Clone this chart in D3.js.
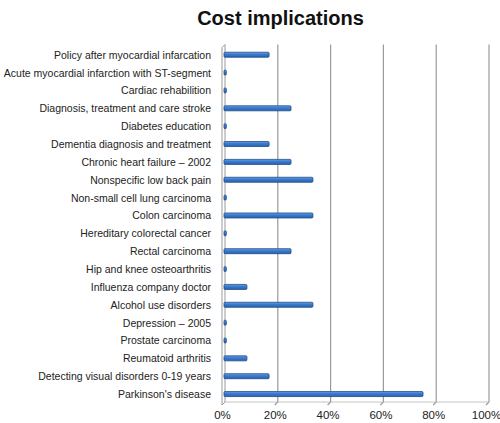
<!DOCTYPE html>
<html><head><meta charset="utf-8">
<script src="https://cdn.jsdelivr.net/npm/d3@7"></script>
<style>body{margin:0;background:#fff}</style>
</head><body>
<svg id="c" width="500" height="423"></svg>
<script>
const categories = ["Policy after myocardial infarcation","Acute myocardial infarction with ST-segment","Cardiac rehabilition","Diagnosis, treatment and care stroke","Diabetes education","Dementia diagnosis and treatment","Chronic heart failure \u2013 2002","Nonspecific low back pain","Non-small cell lung carcinoma","Colon carcinoma","Hereditary colorectal cancer","Rectal carcinoma","Hip and knee osteoarthritis","Influenza company doctor","Alcohol use disorders","Depression \u2013 2005","Prostate carcinoma","Reumatoid arthritis","Detecting visual disorders 0-19 years","Parkinson's disease"];
const values = [0.167,0.005,0.005,0.25,0.005,0.167,0.25,0.333,0.005,0.333,0.005,0.25,0.005,0.083,0.333,0.005,0.005,0.083,0.167,0.75];
const tickValues = [0,0.2,0.4,0.6,0.8,1.0];
const title = "Cost implications";

const svg = d3.select("#c");
const font = "Liberation Sans, Arial, Helvetica, sans-serif";
const x = d3.scaleLinear().domain([0,1]).range([225,489]);
const y = d3.scaleBand().domain(categories).range([45.8,403]);
const wallTop = 44.5, floorBack = 402, depth = 3;

svg.append("text").attr("x",280.5).attr("y",25).attr("text-anchor","middle")
  .attr("font-family",font).attr("font-weight","bold").attr("font-size",20).attr("fill","#111").text(title);

const g = svg.append("g");
tickValues.forEach(t=>{
  if(t===0) return;
  const xx = x(t);
  g.append("path").attr("d",`M${xx},${wallTop}V${floorBack}L${xx-depth},${floorBack+depth}`)
    .attr("fill","none").attr("stroke","#9a9a9a").attr("stroke-width",1.2);
});
g.append("path").attr("d",`M${x(0)-depth},${wallTop+depth}L${x(0)},${wallTop}V${floorBack}L${x(0)-depth},${floorBack+depth}Z`)
  .attr("fill","#fff").attr("stroke","#9a9a9a").attr("stroke-width",1);
g.append("path").attr("d",`M${x(0)},${floorBack}H${x(1)}`).attr("stroke","#b5b5b5").attr("stroke-width",0.8);

const defs = svg.append("defs");
const gr = defs.append("linearGradient").attr("id","bg").attr("x1",0).attr("y1",0).attr("x2",0).attr("y2",1);
gr.append("stop").attr("offset","0%").attr("stop-color","#6fa3e6");
gr.append("stop").attr("offset","40%").attr("stop-color","#3a7bd0");
gr.append("stop").attr("offset","100%").attr("stop-color","#2a63b0");

const bh = 5;
g.selectAll(".bar").data(categories).enter().append("rect")
  .attr("x",x(0)-1)
  .attr("y",d=>y(d)+y.bandwidth()/2-bh/2)
  .attr("width",(d,i)=>Math.max(1.2,x(values[i])-x(0)+1))
  .attr("height",bh)
  .attr("fill","url(#bg)").attr("stroke","#1d4b85").attr("stroke-width",0.8).attr("rx",1);

svg.append("g").selectAll("text").data(categories).enter().append("text")
  .attr("x",211).attr("y",d=>y(d)+y.bandwidth()/2+4)
  .attr("text-anchor","end").attr("font-family",font).attr("font-size",10.5).attr("fill","#222")
  .text(d=>d);

svg.append("g").selectAll("text").data(tickValues).enter().append("text")
  .attr("x",t=>x(t)-2.5).attr("y",419).attr("text-anchor","middle")
  .attr("font-family",font).attr("font-size",11.5).attr("fill","#222")
  .text(t=>d3.format(".0%")(t));
</script>
</body></html>
